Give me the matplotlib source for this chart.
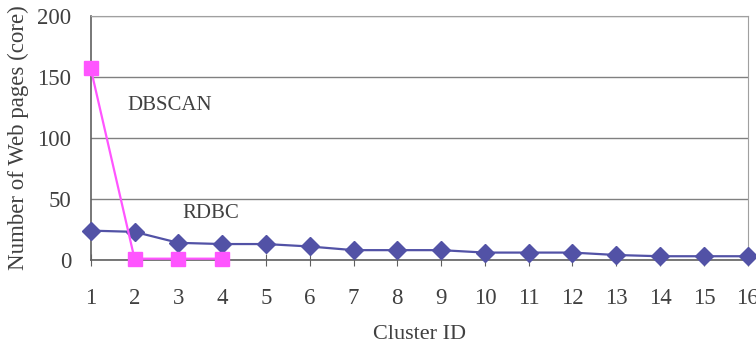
import matplotlib.pyplot as plt

plt.rcParams['font.family'] = ['Liberation Serif', 'DejaVu Serif']

cluster_id = list(range(1, 17))
rdbc = [24, 23, 14, 13, 13, 11, 8, 8, 8, 6, 6, 6, 4, 3, 3, 3]
dbscan_id = [1, 2, 3, 4]
dbscan = [157, 1, 1, 1]

txt = '#404040'
fig = plt.figure(figsize=(7.56, 3.47), dpi=100)
ax = fig.add_axes([0.120, 0.251, 0.869, 0.703])

ax.plot(cluster_id, rdbc, color='#5252A6', marker='D', markersize=9.5,
        linewidth=1.6, clip_on=False, zorder=3)
ax.plot(dbscan_id, dbscan, color='#FF55FF', marker='s', markersize=10,
        linewidth=1.6, clip_on=False, zorder=4)

ax.text(1.84, 127, 'DBSCAN', fontsize=15, color=txt, va='center')
ax.text(3.1, 38, 'RDBC', fontsize=15, color=txt, va='center')

ax.set_xlim(1, 16)
ax.set_ylim(0, 200)
ax.set_xticks(cluster_id)
ax.set_yticks([0, 50, 100, 150, 200])
ax.yaxis.grid(True, color='#808080', linewidth=1)
ax.set_axisbelow(True)

for s in ['top', 'right']:
    ax.spines[s].set_color('#a0a0a0')
for s in ['left', 'bottom']:
    ax.spines[s].set_color('#606060')
    ax.spines[s].set_linewidth(1.2)

ax.tick_params(axis='x', direction='inout', length=8, pad=16,
               labelsize=16.5, labelcolor=txt, color='#606060')
ax.tick_params(axis='y', length=0, pad=14, labelsize=16.5, labelcolor=txt)

ax.set_xlabel('Cluster ID', fontsize=16, color=txt, labelpad=12)
ax.set_ylabel('Number of Web pages (core)', fontsize=16.5, color=txt, labelpad=6)

fig.savefig('out.png', dpi=100)
